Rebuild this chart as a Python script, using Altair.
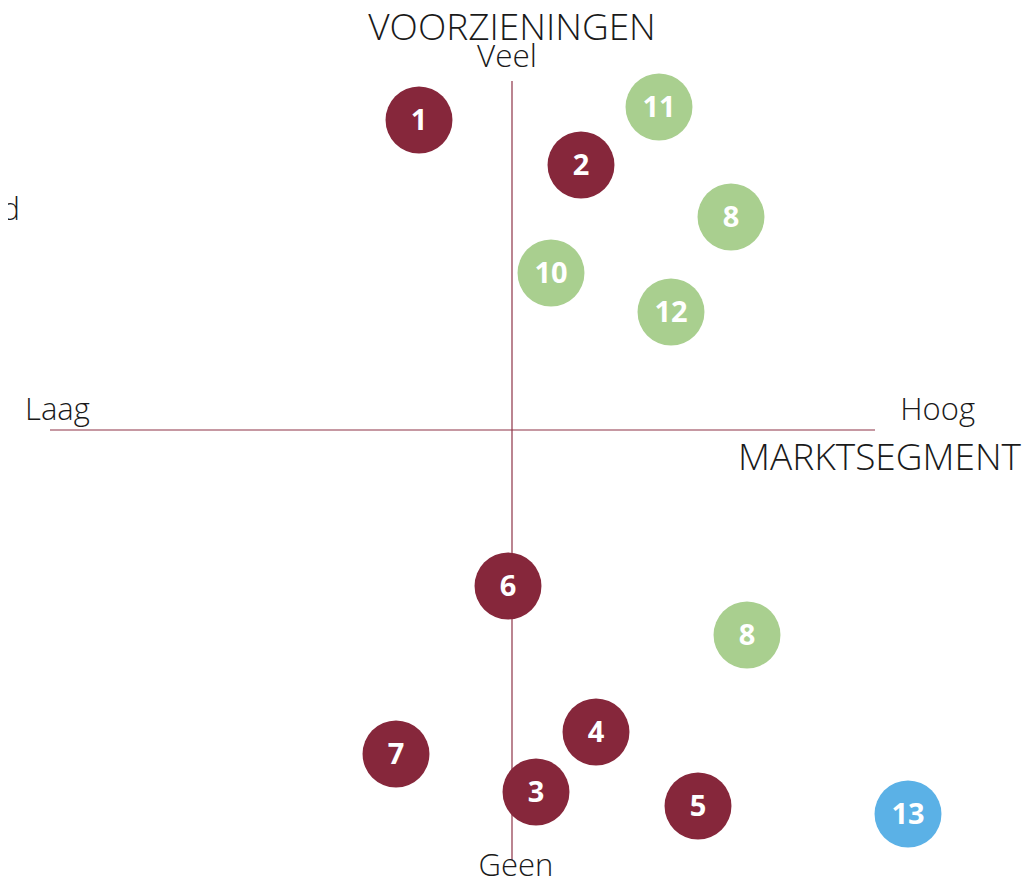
import altair as alt
import pandas as pd

# Positions in chart units: x = market segment (Laag -> Hoog), y = facilities (Geen -> Veel)
labels = ["1", "2", "11", "8", "10", "12", "6", "8", "4", "7", "3", "5", "13"]
seg_x = [-93, 69, 147, 219, 39, 159, -4, 235, 84, -116, 24, 186, 396]
voorz_y = [310, 265, 323, 213, 157, 118, -156, -205, -302, -324, -362, -376, -384]
groups = ["a", "a", "b", "b", "b", "b", "a", "b", "a", "a", "a", "a", "c"]

group_names = ["a", "b", "c"]
group_colors = ["#86273B", "#A9CF8F", "#5BB1E6"]

# axis text labels
txt = ["VOORZIENINGEN", "Veel", "Laag", "Hoog", "MARKTSEGMENT", "Geen", "Gemiddeld"]
txt_x = [0, -5, -487, 463, 509, 4, -492]
txt_y = [390, 363, 10, 10, -40, -446, 210]
txt_size = [37, 31.5, 31, 31, 37, 31, 31]
txt_align = ["center", "center", "left", "right", "right", "center", "right"]

# axis lines
h_line = {"x": -462, "x2": 363, "y": 0}
v_line = {"x": 0, "y": 349, "y2": -430}

X_DOM = [-504, 510]
Y_DOM = [-447, 422]
W, H = 1014, 869

xs = alt.Scale(domain=X_DOM, nice=False, zero=False)
ys = alt.Scale(domain=Y_DOM, nice=False, zero=False)

pts = pd.DataFrame({"label": labels, "x": seg_x, "y": voorz_y, "g": groups})
tx = pd.DataFrame({"t": txt, "x": txt_x, "y": txt_y, "s": txt_size, "a": txt_align})
hl = pd.DataFrame([h_line])
vl = pd.DataFrame([v_line])

line_color = "#8E3347"

hrule = alt.Chart(hl).mark_rule(color=line_color, strokeWidth=1.2).encode(
    x=alt.X("x:Q", scale=xs, axis=None),
    x2="x2:Q",
    y=alt.Y("y:Q", scale=ys, axis=None),
)
vrule = alt.Chart(vl).mark_rule(color=line_color, strokeWidth=1.2).encode(
    x=alt.X("x:Q", scale=xs, axis=None),
    y=alt.Y("y:Q", scale=ys, axis=None),
    y2="y2:Q",
)

circles = alt.Chart(pts).mark_circle(size=4480, opacity=1).encode(
    x=alt.X("x:Q", scale=xs, axis=None),
    y=alt.Y("y:Q", scale=ys, axis=None),
    color=alt.Color("g:N", scale=alt.Scale(domain=group_names, range=group_colors), legend=None),
)

nums = alt.Chart(pts).mark_text(
    font="Open Sans", fontSize=29, fontWeight="bold", color="white", baseline="middle", dy=1
).encode(
    x=alt.X("x:Q", scale=xs, axis=None),
    y=alt.Y("y:Q", scale=ys, axis=None),
    text="label:N",
)

texts = []
for i in range(len(txt)):
    sub = tx.iloc[[i]]
    texts.append(
        alt.Chart(sub).mark_text(
            font="Open Sans", fontSize=txt_size[i], fontWeight=300, color="#1a1a1a",
            align=txt_align[i], baseline="alphabetic"
        ).encode(
            x=alt.X("x:Q", scale=xs, axis=None),
            y=alt.Y("y:Q", scale=ys, axis=None),
            text="t:N",
        )
    )

chart = alt.layer(hrule, vrule, circles, nums, *texts).properties(
    width=W, height=H, padding=0, autosize=alt.AutoSizeParams(type="none")
).configure_view(stroke=None)

chart.save("out.html", embed_options={"renderer": "svg", "actions": False})
